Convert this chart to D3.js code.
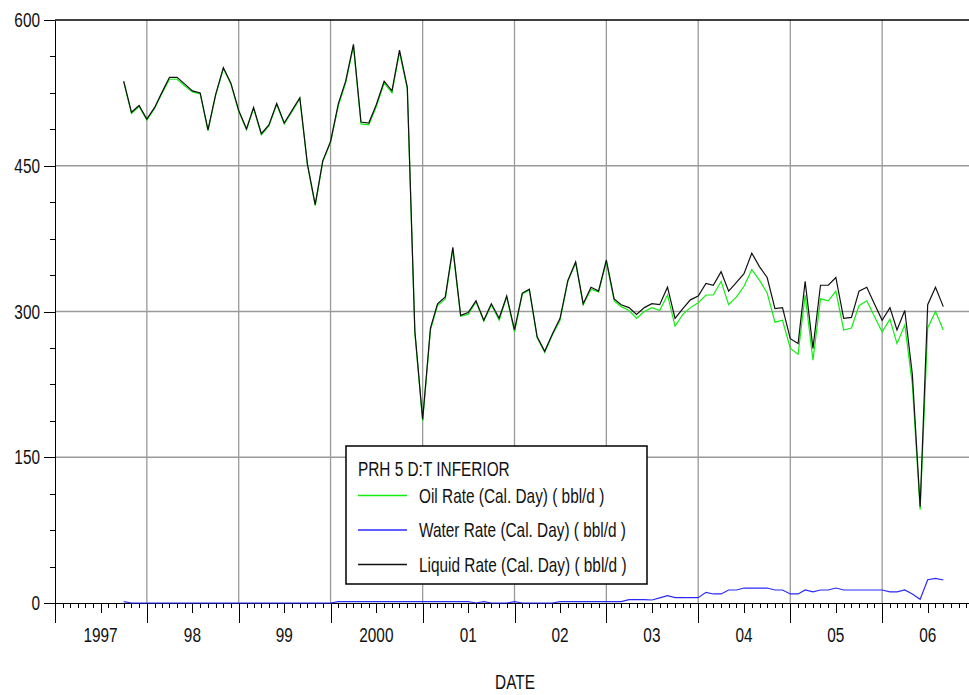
<!DOCTYPE html>
<html lang="en">
<head>
<meta charset="utf-8">
<title>PRH 5 D:T INFERIOR</title>
<script src="https://cdn.jsdelivr.net/npm/d3@7"></script>
<style>
body { margin: 0; background: #fff; }
#chart text {
  font-family: "Liberation Sans", Arial, sans-serif;
  font-size: 20.5px;
  fill: #111;
}
.grid line { stroke: #9a9a9a; stroke-width: 1.3; }
.axis path, .axis line { stroke: #000; stroke-width: 1; shape-rendering: crispEdges; }
</style>
</head>
<body>
<div id="chart"></div>
<script>
// monthly values, first point = Oct 1997
var startYear = 1997, startMonth = 9;

var liquid = [
  537, 505, 512,
  498, 510, 525, 541, 541, 534, 527, 525, 487, 523, 551, 535,
  507, 488, 510, 483, 492, 514, 494, 507, 520, 452, 410, 455,
  475, 514, 537, 575, 495, 494, 513, 537, 527, 569, 531, 280,
  189, 283, 308, 315, 366, 296, 299, 311, 291, 308, 293, 316,
  281, 319, 323, 274, 259, 277, 293, 332, 351, 308, 325, 321,
  353, 313, 307, 304, 297, 304, 308, 307, 325, 293, 303, 312,
  316, 329, 327, 341, 321, 330, 339, 360, 346, 335, 303, 304,
  272, 267, 331, 262, 327, 327, 335, 293, 294, 321, 325, 308,
  291, 304, 281, 301, 235, 99, 307, 325, 305
];

var oil = [
  536, 504, 511,
  497, 509, 524, 539, 539, 532, 526, 524, 486, 522, 550, 534,
  506, 487, 509, 482, 491, 513, 493, 506, 519, 451, 409, 454,
  474, 512, 535, 573, 493, 492, 511, 535, 525, 567, 529, 278,
  187, 281, 306, 313, 364, 295, 297, 310, 290, 307, 291, 315,
  279, 318, 322, 273, 258, 276, 291, 331, 350, 307, 323, 320,
  351, 311, 305, 301, 293, 300, 304, 301, 317, 285, 297, 304,
  309, 317, 317, 331, 307, 315, 326, 343, 332, 319, 289, 291,
  262, 256, 317, 250, 313, 311, 321, 281, 283, 306, 311, 295,
  279, 292, 267, 286, 225, 96, 283, 300, 281
];

var water = [
  1.4, 0, 0,
  0, 0, 0, 0, 0, 0, 0, 0, 0, 0, 0, 0,
  0, 0, 0, 0, 0, 0, 0, 0, 0, 0, 0, 0,
  0, 1.5, 1.5, 1.5, 1.5, 1.5, 1.5, 1.5, 1.5, 1.5, 1.5, 1.5,
  1.5, 1.5, 1.5, 1.5, 1.5, 1.5, 1.5, 0, 1.4, 0, 0, 0,
  1.4, 0, 0, 0, 0, 0, 1.4, 1.4, 1.4, 1.4, 1.4, 1.4,
  1.4, 1.4, 1.4, 3.4, 3.4, 3.4, 3.1, 5.3, 7.5, 5.5, 5.5, 5.5,
  5.5, 11, 9.3, 9.3, 13.4, 13.4, 15.4, 15.4, 15.4, 15.4, 13.4, 13.4,
  9.3, 9.3, 13.4, 11.5, 13.4, 13.4, 15.4, 13.4, 13.4, 13.4, 13.4, 13.4,
  13.4, 11.5, 11.5, 13.4, 9.3, 3.8, 24, 25.4, 23.7
];

var yTicks = [0, 150, 300, 450, 600];
var years = [1997, 1998, 1999, 2000, 2001, 2002, 2003, 2004, 2005, 2006];
var yearLabels = ["1997", "98", "99", "2000", "01", "02", "03", "04", "05", "06"];

var legendTitle = "PRH 5 D:T INFERIOR";
var seriesNames = ["Oil Rate (Cal. Day) ( bbl/d )", "Water Rate (Cal. Day) ( bbl/d )", "Liquid Rate (Cal. Day) ( bbl/d )"];
var seriesColors = ["#10ee10", "#2a2aff", "#111111"];

var W = 969, H = 695;
var plotLeft = 55, plotTop = 20, plotBottom = 603;
var squeeze = 0.75; // the original uses a condensed face

var dates = liquid.map(function(d, i) { return new Date(startYear, startMonth + i, 1); });

var x = d3.scaleTime()
  .domain([new Date(1997, 0, 1), new Date(2007, 0, 1)])
  .range([plotLeft, 974]);
var y = d3.scaleLinear().domain([0, 600]).range([plotBottom, plotTop]);

var svg = d3.select('#chart').append('svg')
  .attr('width', W)
  .attr('height', H);

/* grid */
var grid = svg.append('g').attr('class', 'grid');
grid.selectAll('.gx')
  .data(years.slice(1))
  .enter().append('line')
  .attr('x1', function(d) { return x(new Date(d, 0, 1)); })
  .attr('x2', function(d) { return x(new Date(d, 0, 1)); })
  .attr('y1', y(600)).attr('y2', y(0));
grid.selectAll('.gy')
  .data([150, 300, 450])
  .enter().append('line')
  .attr('x1', plotLeft).attr('x2', W)
  .attr('y1', function(d) { return y(d); })
  .attr('y2', function(d) { return y(d); });

/* top frame line */
svg.append('line')
  .attr('x1', plotLeft).attr('x2', W)
  .attr('y1', plotTop).attr('y2', plotTop)
  .style('stroke', '#000').style('stroke-width', 1.5);

/* y axis */
svg.append('g').attr('class', 'axis')
  .attr('transform', 'translate(' + plotLeft + ',0)')
  .call(d3.axisLeft(y).tickValues(d3.range(0, 601, 37.5)).tickSize(5).tickFormat(''))
  .select('.domain').remove();
svg.append('g').attr('class', 'axis')
  .attr('transform', 'translate(' + plotLeft + ',0)')
  .call(d3.axisLeft(y).tickValues(yTicks).tickSize(11).tickPadding(4).tickSizeOuter(0));

/* x axis: month, mid-year and year ticks */
var xAxisG = svg.append('g').attr('transform', 'translate(0,' + plotBottom + ')');
xAxisG.append('g').attr('class', 'axis')
  .call(d3.axisBottom(x).tickValues(d3.timeMonth.range(new Date(1997, 0, 1), new Date(2007, 0, 1))).tickSize(5).tickFormat('').tickSizeOuter(0))
  .select('.domain').attr('d', 'M' + plotLeft + ',0.5H' + W);
xAxisG.append('g').attr('class', 'axis')
  .call(d3.axisBottom(x).tickValues(years.map(function(d) { return new Date(d, 6, 1); })).tickSize(10).tickFormat(''))
  .select('.domain').remove();
xAxisG.append('g').attr('class', 'axis')
  .call(d3.axisBottom(x).tickValues(years.map(function(d) { return new Date(d, 0, 1); })).tickSize(20).tickFormat(''))
  .select('.domain').remove();

svg.selectAll('.year-label')
  .data(years)
  .enter().append('text')
  .attr('class', 'year-label')
  .attr('x', function(d) { return x(new Date(d, 6, 1)); })
  .attr('y', 642)
  .attr('text-anchor', 'middle')
  .text(function(d, i) { return yearLabels[i]; });

svg.append('text')
  .attr('x', 515)
  .attr('y', 689)
  .attr('text-anchor', 'middle')
  .text('DATE');

/* series */
var line = d3.line()
  .x(function(d, i) { return x(dates[i]); })
  .y(function(d) { return y(d); });

var series = [oil, water, liquid];
svg.selectAll('.series')
  .data(series)
  .enter().append('path')
  .attr('class', 'series')
  .attr('d', line)
  .style('fill', 'none')
  .style('stroke', function(d, i) { return seriesColors[i]; })
  .style('stroke-width', 1.2);

/* legend */
var legend = svg.append('g').attr('transform', 'translate(346,446)');
legend.append('rect')
  .attr('width', 301).attr('height', 138)
  .style('fill', '#fff').style('stroke', '#000').style('stroke-width', 1.5);
legend.append('text')
  .attr('x', 12).attr('y', 30)
  .text(legendTitle);
seriesNames.forEach(function(name, i) {
  var row = legend.append('g').attr('transform', 'translate(0,' + (49 + i * 34.5) + ')');
  row.append('line')
    .attr('x1', 12).attr('x2', 61)
    .attr('y1', 0.5).attr('y2', 0.5)
    .style('stroke', seriesColors[i])
    .style('stroke-width', 1.3);
  row.append('text')
    .attr('x', 73).attr('y', 7.5)
    .text(name);
});

/* squeeze every text horizontally around its anchor */
svg.selectAll('text').each(function() {
  var t = d3.select(this);
  var tx = +t.attr('x') || 0, ty = +t.attr('y') || 0;
  t.attr('x', 0).attr('y', 0)
    .attr('transform', 'translate(' + tx + ',' + ty + ') scale(' + squeeze + ',1)');
});
</script>
</body>
</html>
